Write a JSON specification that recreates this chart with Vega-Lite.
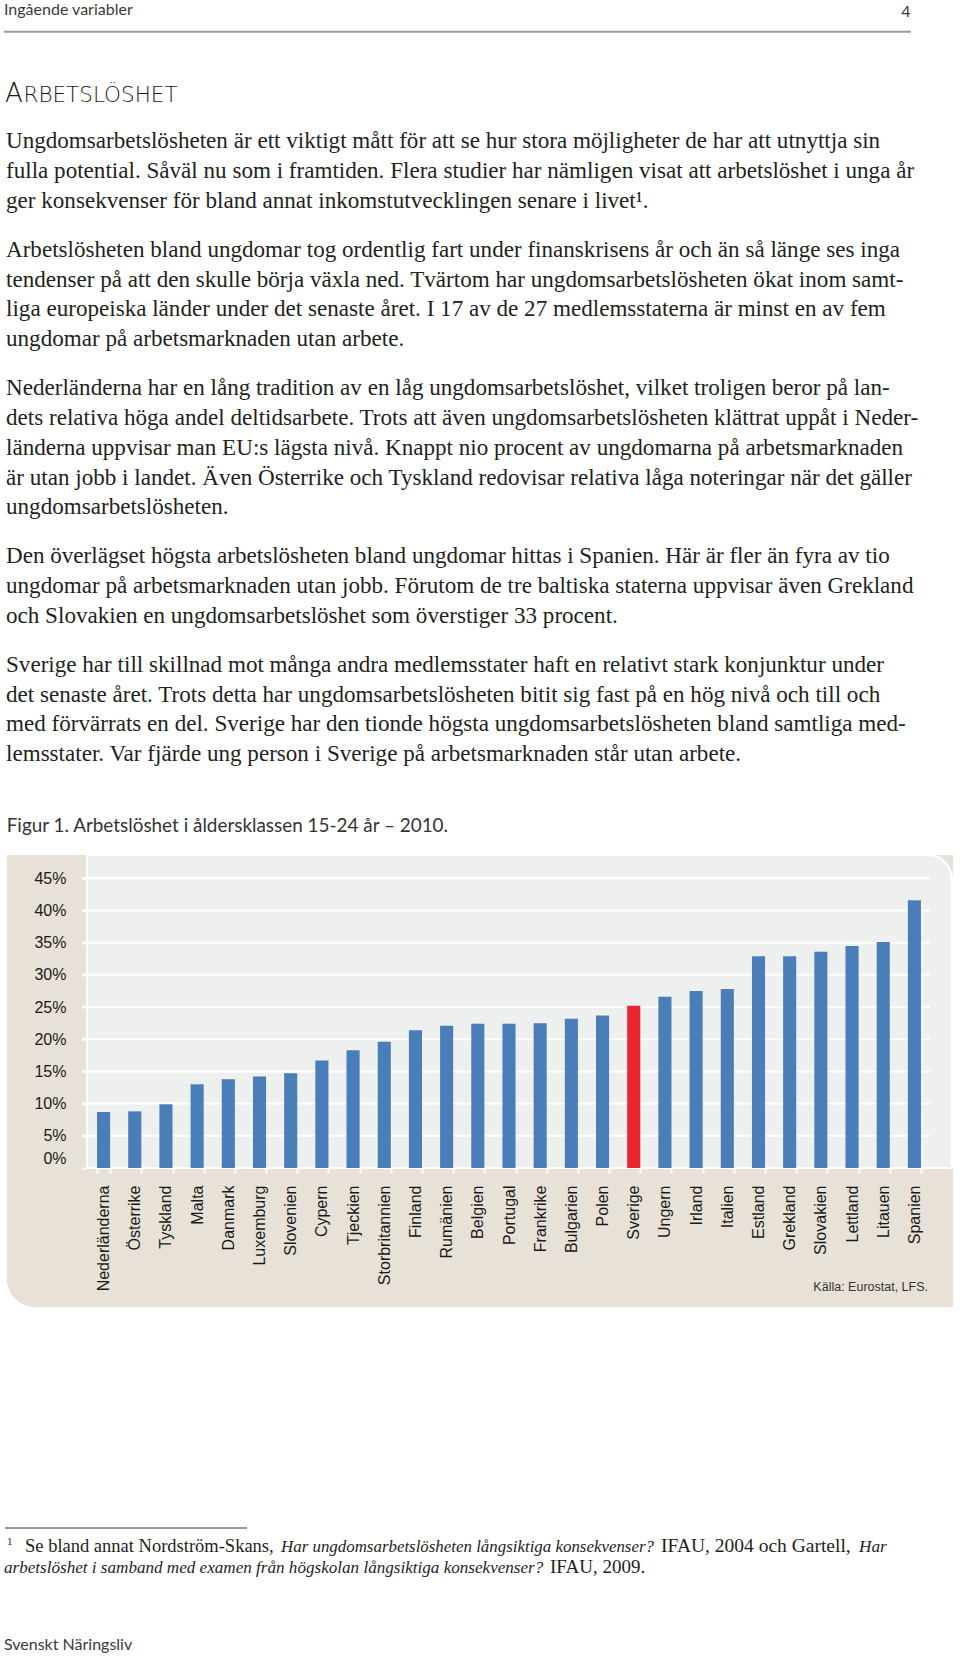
{
  "$schema": "https://vega.github.io/schema/vega-lite/v6.json",
  "width": 960,
  "height": 1657,
  "autosize": "none",
  "padding": 0,
  "background": "white",
  "config": {"view": {"stroke": null}},
  "datasets": {
    "bars": [
      {"land": "Nederländerna", "pct": 8.7},
      {"land": "Österrike", "pct": 8.8},
      {"land": "Tyskland", "pct": 9.9},
      {"land": "Malta", "pct": 13.0},
      {"land": "Danmark", "pct": 13.8},
      {"land": "Luxemburg", "pct": 14.2},
      {"land": "Slovenien", "pct": 14.7},
      {"land": "Cypern", "pct": 16.7},
      {"land": "Tjeckien", "pct": 18.3},
      {"land": "Storbritannien", "pct": 19.6},
      {"land": "Finland", "pct": 21.4},
      {"land": "Rumänien", "pct": 22.1},
      {"land": "Belgien", "pct": 22.4},
      {"land": "Portugal", "pct": 22.4},
      {"land": "Frankrike", "pct": 22.5},
      {"land": "Bulgarien", "pct": 23.2},
      {"land": "Polen", "pct": 23.7},
      {"land": "Sverige", "pct": 25.2},
      {"land": "Ungern", "pct": 26.6},
      {"land": "Irland", "pct": 27.5},
      {"land": "Italien", "pct": 27.8},
      {"land": "Estland", "pct": 32.9},
      {"land": "Grekland", "pct": 32.9},
      {"land": "Slovakien", "pct": 33.6},
      {"land": "Lettland", "pct": 34.5},
      {"land": "Litauen", "pct": 35.1},
      {"land": "Spanien", "pct": 41.6}
    ],
    "grid": [
      {"pct": 5}, {"pct": 10}, {"pct": 15}, {"pct": 20}, {"pct": 25},
      {"pct": 30}, {"pct": 35}, {"pct": 40}, {"pct": 45}
    ],
    "body": [
      {"para": 0, "line": 0, "t": "Ungdomsarbetslösheten är ett viktigt mått för att se hur stora möjligheter de har att utnyttja sin"},
      {"para": 0, "line": 1, "t": "fulla potential. Såväl nu som i framtiden. Flera studier har nämligen visat att arbetslöshet i unga år"},
      {"para": 0, "line": 2, "t": "ger konsekvenser för bland annat inkomstutvecklingen senare i livet¹."},
      {"para": 1, "line": 3, "t": "Arbetslösheten bland ungdomar tog ordentlig fart under finanskrisens år och än så länge ses inga"},
      {"para": 1, "line": 4, "t": "tendenser på att den skulle börja växla ned. Tvärtom har ungdomsarbetslösheten ökat inom samt-"},
      {"para": 1, "line": 5, "t": "liga europeiska länder under det senaste året. I 17 av de 27 medlemsstaterna är minst en av fem"},
      {"para": 1, "line": 6, "t": "ungdomar på arbetsmarknaden utan arbete."},
      {"para": 2, "line": 7, "t": "Nederländerna har en lång tradition av en låg ungdomsarbetslöshet, vilket troligen beror på lan-"},
      {"para": 2, "line": 8, "t": "dets relativa höga andel deltidsarbete. Trots att även ungdomsarbetslösheten klättrat uppåt i Neder-"},
      {"para": 2, "line": 9, "t": "länderna uppvisar man EU:s lägsta nivå. Knappt nio procent av ungdomarna på arbetsmarknaden"},
      {"para": 2, "line": 10, "t": "är utan jobb i landet. Även Österrike och Tyskland redovisar relativa låga noteringar när det gäller"},
      {"para": 2, "line": 11, "t": "ungdomsarbetslösheten."},
      {"para": 3, "line": 12, "t": "Den överlägset högsta arbetslösheten bland ungdomar hittas i Spanien. Här är fler än fyra av tio"},
      {"para": 3, "line": 13, "t": "ungdomar på arbetsmarknaden utan jobb. Förutom de tre baltiska staterna uppvisar även Grekland"},
      {"para": 3, "line": 14, "t": "och Slovakien en ungdomsarbetslöshet som överstiger 33 procent."},
      {"para": 4, "line": 15, "t": "Sverige har till skillnad mot många andra medlemsstater haft en relativt stark konjunktur under"},
      {"para": 4, "line": 16, "t": "det senaste året. Trots detta har ungdomsarbetslösheten bitit sig fast på en hög nivå och till och"},
      {"para": 4, "line": 17, "t": "med förvärrats en del. Sverige har den tionde högsta ungdomsarbetslösheten bland samtliga med-"},
      {"para": 4, "line": 18, "t": "lemsstater. Var fjärde ung person i Sverige på arbetsmarknaden står utan arbete."}
    ]
  },
  "resolve": {
    "scale": {"x": "independent", "y": "independent"},
    "axis": {"x": "independent", "y": "independent"}
  },
  "layer": [
    {
      "data": {"values": [{}]},
      "mark": {"type": "rect", "fill": "#e7e1d7", "cornerRadiusBottomLeft": 28},
      "encoding": {"x": {"value": 7}, "x2": {"value": 953}, "y": {"value": 855}, "y2": {"value": 1307}}
    },
    {
      "data": {"values": [{}]},
      "mark": {"type": "rect", "fill": "#eef0ef", "stroke": "white", "strokeWidth": 2, "cornerRadiusTopRight": 24},
      "encoding": {"x": {"value": 87}, "x2": {"value": 952}, "y": {"value": 855}, "y2": {"value": 1168}}
    },
    {
      "layer": [
        {
          "data": {"name": "grid"},
          "mark": {"type": "rule", "color": "white", "strokeWidth": 2},
          "encoding": {
            "x": {"value": 82},
            "x2": {"value": 930},
            "y": {"field": "pct", "type": "quantitative", "scale": {"domain": [0, 45], "range": [1168, 878.3], "nice": false, "zero": true}}
          }
        },
        {
          "data": {"name": "bars"},
          "mark": {"type": "bar"},
          "encoding": {
            "x": {
              "field": "land", "type": "nominal", "sort": null,
              "scale": {"range": [88, 930], "paddingInner": 0.58, "paddingOuter": 0.29},
              "axis": {
                "orient": "bottom", "offset": -489, "labelAngle": -90, "labelAlign": "right", "labelBaseline": "middle",
                "labelPadding": 12, "tickBand": "extent", "tickColor": "white", "tickWidth": 2, "tickSize": 5,
                "domain": false, "grid": false, "title": null, "labelFont": "Liberation Sans", "labelFontSize": 16,
                "labelColor": "#1a1a1a", "zindex": 1, "labelOverlap": false, "labelLimit": 300
              }
            },
            "y": {
              "field": "pct", "type": "quantitative",
              "scale": {"domain": [0, 45], "range": [1168, 878.3], "nice": false, "zero": true},
              "axis": {
                "orient": "left", "offset": -88, "values": [0, 5, 10, 15, 20, 25, 30, 35, 40, 45],
                "labelExpr": "datum.value + '%'", "grid": false, "domain": false, "ticks": true,
                "tickColor": "white", "tickWidth": 2, "tickSize": 6, "labelPadding": 16,
                "labelFont": "Liberation Sans", "labelFontSize": 16, "labelColor": "#1a1a1a", "title": null,
                "zindex": 1, "labelAlign": "right", "labelBaseline": "middle",
                "labelOffset": {"condition": {"test": "datum.value === 0", "value": -10}, "value": 0}
              }
            },
            "color": {"condition": {"test": "datum.land === 'Sverige'", "value": "#e8262d"}, "value": "#4a7eb8"}
          }
        }
      ]
    },
    {
      "data": {"values": [{"t": "Källa: Eurostat, LFS."}]},
      "mark": {"type": "text", "align": "right", "baseline": "alphabetic", "font": "Liberation Sans", "fontSize": 12.5, "color": "#333333"},
      "encoding": {"x": {"value": 928}, "y": {"value": 1291}, "text": {"field": "t", "type": "nominal"}}
    },
    {
      "data": {"values": [{"t": "Ingående variabler"}]},
      "mark": {"type": "text", "align": "left", "baseline": "alphabetic", "font": "Lato", "fontSize": 16, "color": "#3a3a3a"},
      "encoding": {"x": {"value": 4}, "y": {"value": 15}, "text": {"field": "t", "type": "nominal"}}
    },
    {
      "data": {"values": [{"t": "4"}]},
      "mark": {"type": "text", "align": "center", "baseline": "alphabetic", "font": "Lato", "fontSize": 16, "color": "#3a3a3a"},
      "encoding": {"x": {"value": 906}, "y": {"value": 17}, "text": {"field": "t", "type": "nominal"}}
    },
    {
      "data": {"values": [{}]},
      "mark": {"type": "rule", "color": "#9b9b9b", "strokeWidth": 2},
      "encoding": {"x": {"value": 4}, "x2": {"value": 911}, "y": {"value": 31.7}}
    },
    {
      "data": {"values": [{"t": "A"}]},
      "mark": {"type": "text", "align": "left", "baseline": "alphabetic", "font": "DejaVu Sans", "fontWeight": 300, "fontSize": 26, "color": "#1a1a1a"},
      "encoding": {"x": {"value": 5}, "y": {"value": 101.7}, "text": {"field": "t", "type": "nominal"}}
    },
    {
      "data": {"values": [{"t": "RBETSLÖSHET"}]},
      "mark": {"type": "text", "align": "left", "baseline": "alphabetic", "font": "DejaVu Sans", "fontWeight": 300, "fontSize": 21.5, "color": "#1a1a1a"},
      "encoding": {"x": {"value": 23.5}, "y": {"value": 101.7}, "text": {"field": "t", "type": "nominal"}}
    },
    {
      "data": {"name": "body"},
      "transform": [{"filter": "datum.para === 0"}],
      "mark": {"type": "text", "align": "left", "baseline": "alphabetic", "font": "Liberation Serif", "fontSize": 23.1, "color": "#231f20", "dy": 0},
      "encoding": {
        "x": {"value": 6},
        "y": {"field": "line", "type": "quantitative", "scale": {"domain": [0, 18], "range": [148.3, 684.7], "nice": false, "zero": false}, "axis": null},
        "text": {"field": "t", "type": "nominal"}
      }
    },
    {
      "data": {"name": "body"},
      "transform": [{"filter": "datum.para === 1"}],
      "mark": {"type": "text", "align": "left", "baseline": "alphabetic", "font": "Liberation Serif", "fontSize": 23.1, "color": "#231f20", "dy": 19.1},
      "encoding": {
        "x": {"value": 6},
        "y": {"field": "line", "type": "quantitative", "scale": {"domain": [0, 18], "range": [148.3, 684.7], "nice": false, "zero": false}, "axis": null},
        "text": {"field": "t", "type": "nominal"}
      }
    },
    {
      "data": {"name": "body"},
      "transform": [{"filter": "datum.para === 2"}],
      "mark": {"type": "text", "align": "left", "baseline": "alphabetic", "font": "Liberation Serif", "fontSize": 23.1, "color": "#231f20", "dy": 38.2},
      "encoding": {
        "x": {"value": 6},
        "y": {"field": "line", "type": "quantitative", "scale": {"domain": [0, 18], "range": [148.3, 684.7], "nice": false, "zero": false}, "axis": null},
        "text": {"field": "t", "type": "nominal"}
      }
    },
    {
      "data": {"name": "body"},
      "transform": [{"filter": "datum.para === 3"}],
      "mark": {"type": "text", "align": "left", "baseline": "alphabetic", "font": "Liberation Serif", "fontSize": 23.1, "color": "#231f20", "dy": 57.3},
      "encoding": {
        "x": {"value": 6},
        "y": {"field": "line", "type": "quantitative", "scale": {"domain": [0, 18], "range": [148.3, 684.7], "nice": false, "zero": false}, "axis": null},
        "text": {"field": "t", "type": "nominal"}
      }
    },
    {
      "data": {"name": "body"},
      "transform": [{"filter": "datum.para === 4"}],
      "mark": {"type": "text", "align": "left", "baseline": "alphabetic", "font": "Liberation Serif", "fontSize": 23.1, "color": "#231f20", "dy": 76.4},
      "encoding": {
        "x": {"value": 6},
        "y": {"field": "line", "type": "quantitative", "scale": {"domain": [0, 18], "range": [148.3, 684.7], "nice": false, "zero": false}, "axis": null},
        "text": {"field": "t", "type": "nominal"}
      }
    },
    {
      "data": {"values": [{"t": "Figur 1. Arbetslöshet i åldersklassen 15-24 år – 2010."}]},
      "mark": {"type": "text", "align": "left", "baseline": "alphabetic", "font": "Lato", "fontSize": 18.9, "color": "#333333"},
      "encoding": {"x": {"value": 6.7}, "y": {"value": 831.7}, "text": {"field": "t", "type": "nominal"}}
    },
    {
      "data": {"values": [{}]},
      "mark": {"type": "rule", "color": "#333333", "strokeWidth": 1},
      "encoding": {"x": {"value": 5}, "x2": {"value": 247}, "y": {"value": 1528}}
    },
    {
      "data": {"values": [{"t": "1"}]},
      "mark": {"type": "text", "align": "left", "baseline": "alphabetic", "font": "Liberation Serif", "fontSize": 11, "color": "#231f20"},
      "encoding": {"x": {"value": 7}, "y": {"value": 1545}, "text": {"field": "t", "type": "nominal"}}
    },
    {
      "data": {"values": [{"t": "Se bland annat Nordström-Skans,"}]},
      "mark": {"type": "text", "align": "left", "baseline": "alphabetic", "font": "Liberation Serif", "fontSize": 18.5, "color": "#231f20"},
      "encoding": {"x": {"value": 25}, "y": {"value": 1552}, "text": {"field": "t", "type": "nominal"}}
    },
    {
      "data": {"values": [{"t": "Har ungdomsarbetslösheten långsiktiga konsekvenser?"}]},
      "mark": {"type": "text", "align": "left", "baseline": "alphabetic", "font": "Liberation Serif", "fontStyle": "italic", "fontSize": 16.9, "color": "#231f20"},
      "encoding": {"x": {"value": 281}, "y": {"value": 1552}, "text": {"field": "t", "type": "nominal"}}
    },
    {
      "data": {"values": [{"t": "IFAU, 2004 och Gartell,"}]},
      "mark": {"type": "text", "align": "left", "baseline": "alphabetic", "font": "Liberation Serif", "fontSize": 19.5, "color": "#231f20"},
      "encoding": {"x": {"value": 661}, "y": {"value": 1552}, "text": {"field": "t", "type": "nominal"}}
    },
    {
      "data": {"values": [{"t": "Har"}]},
      "mark": {"type": "text", "align": "left", "baseline": "alphabetic", "font": "Liberation Serif", "fontStyle": "italic", "fontSize": 17.3, "color": "#231f20"},
      "encoding": {"x": {"value": 859}, "y": {"value": 1552}, "text": {"field": "t", "type": "nominal"}}
    },
    {
      "data": {"values": [{"t": "arbetslöshet i samband med examen från högskolan långsiktiga konsekvenser?"}]},
      "mark": {"type": "text", "align": "left", "baseline": "alphabetic", "font": "Liberation Serif", "fontStyle": "italic", "fontSize": 17.1, "color": "#231f20"},
      "encoding": {"x": {"value": 4}, "y": {"value": 1573}, "text": {"field": "t", "type": "nominal"}}
    },
    {
      "data": {"values": [{"t": "IFAU, 2009."}]},
      "mark": {"type": "text", "align": "left", "baseline": "alphabetic", "font": "Liberation Serif", "fontSize": 19, "color": "#231f20"},
      "encoding": {"x": {"value": 550}, "y": {"value": 1573}, "text": {"field": "t", "type": "nominal"}}
    },
    {
      "data": {"values": [{"t": "Svenskt Näringsliv"}]},
      "mark": {"type": "text", "align": "left", "baseline": "alphabetic", "font": "Lato", "fontSize": 16, "color": "#3a3a3a"},
      "encoding": {"x": {"value": 4}, "y": {"value": 1650}, "text": {"field": "t", "type": "nominal"}}
    }
  ]
}
